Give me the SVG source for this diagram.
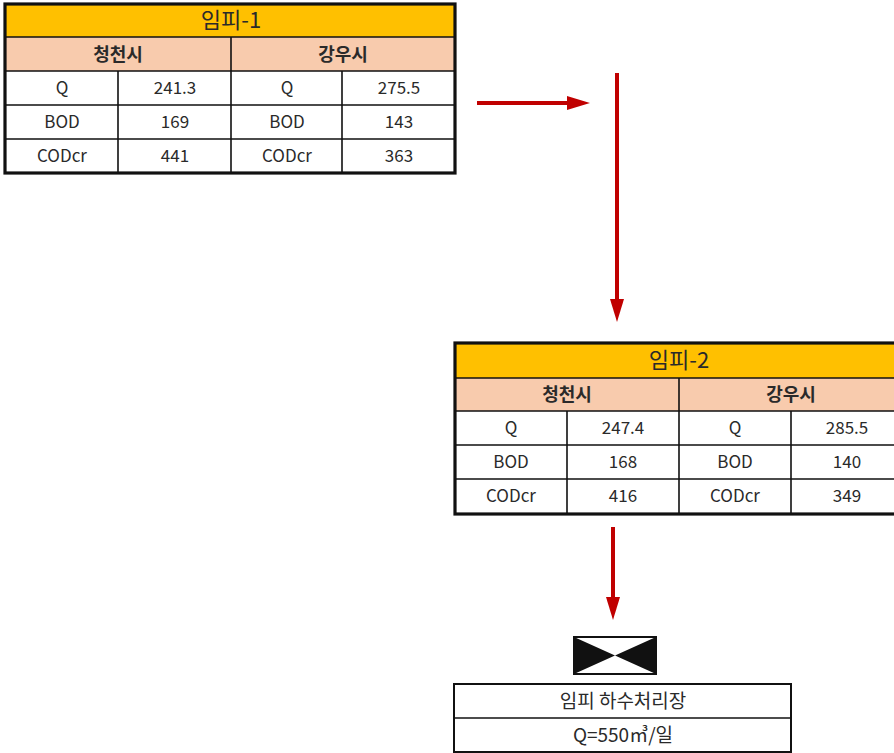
<svg xmlns="http://www.w3.org/2000/svg" width="894" height="753" viewBox="0 0 894 753">
<defs>
<style>
text{font-family:"Noto Sans CJK KR","Malgun Gothic","Liberation Sans",sans-serif;fill:#2a2a2a;text-anchor:middle}
.ttl{font-size:22px}
.hd{font-size:18px;font-weight:bold}
.d{font-size:17px}
.b{font-size:19px}
.title{fill:#FFC000}
.head{fill:#F8CBAD}
.cell{fill:#fff}
.ln{stroke:#111;stroke-width:1.6;fill:none}
.outer{stroke:#111;stroke-width:3.2;fill:none}
.arr{stroke:#C00000;stroke-width:4;fill:none}
.ah{fill:#C00000}
</style>
</defs>
<rect width="894" height="753" fill="#fff"/>
<g id="table1">
<rect class="title" x="5" y="4" width="450" height="33"/>
<rect class="head" x="5" y="37" width="450" height="34"/>
<rect class="cell" x="5" y="71" width="450" height="102"/>
<path class="ln" d="M5 37H455M5 71H455M5 105H455M5 139H455M231 37V173M118 71V173M342 71V173"/>
<rect class="outer" x="5" y="4" width="450" height="169"/>
<text class="ttl" x="231" y="28">임피-1</text>
<text class="hd" x="118" y="61">청천시</text>
<text class="hd" x="343" y="61">강우시</text>
<text class="d" x="62" y="94">Q</text><text class="d" x="175" y="94">241.3</text><text class="d" x="287" y="94">Q</text><text class="d" x="399" y="94">275.5</text>
<text class="d" x="62" y="128">BOD</text><text class="d" x="175" y="128">169</text><text class="d" x="287" y="128">BOD</text><text class="d" x="399" y="128">143</text>
<text class="d" x="62" y="162">CODcr</text><text class="d" x="175" y="162">441</text><text class="d" x="287" y="162">CODcr</text><text class="d" x="399" y="162">363</text>
</g>
<g id="table2">
<rect class="title" x="455" y="343" width="450" height="35"/>
<rect class="head" x="455" y="378" width="450" height="33"/>
<rect class="cell" x="455" y="411" width="450" height="103"/>
<path class="ln" d="M455 378H905M455 411H905M455 445H905M455 479H905M679 378V514M567 411V514M791 411V514"/>
<rect class="outer" x="455" y="343" width="450" height="171"/>
<text class="ttl" x="679" y="368">임피-2</text>
<text class="hd" x="567" y="401">청천시</text>
<text class="hd" x="791" y="401">강우시</text>
<text class="d" x="511" y="434">Q</text><text class="d" x="623" y="434">247.4</text><text class="d" x="735" y="434">Q</text><text class="d" x="847" y="434">285.5</text>
<text class="d" x="511" y="468">BOD</text><text class="d" x="623" y="468">168</text><text class="d" x="735" y="468">BOD</text><text class="d" x="847" y="468">140</text>
<text class="d" x="511" y="502">CODcr</text><text class="d" x="623" y="502">416</text><text class="d" x="735" y="502">CODcr</text><text class="d" x="847" y="502">349</text>
</g>
<g id="valve">
<rect x="574" y="637" width="82" height="37" fill="#fff" stroke="#111" stroke-width="2"/>
<path d="M574 637L615 655.5L574 674ZM656 637L615 655.5L656 674Z" fill="#111"/>
</g>
<g id="plant">
<rect x="454" y="684" width="337" height="68" fill="#fff" stroke="#111" stroke-width="2"/>
<path class="ln" d="M454 718H791"/>
<text class="b" x="623" y="708">임피 하수처리장</text>
<text class="b" x="623" y="742">Q=550㎥/일</text>
</g>
<g id="connectors">
<path class="arr" d="M477 103H570"/>
<path class="ah" d="M567 96L590 103L567 110Z"/>
<path class="arr" d="M617 73V302"/>
<path class="ah" d="M610 299L617 322L624 299Z"/>
<path class="arr" d="M613 527V600"/>
<path class="ah" d="M606 597L613 620L620 597Z"/>
</g>
</svg>
